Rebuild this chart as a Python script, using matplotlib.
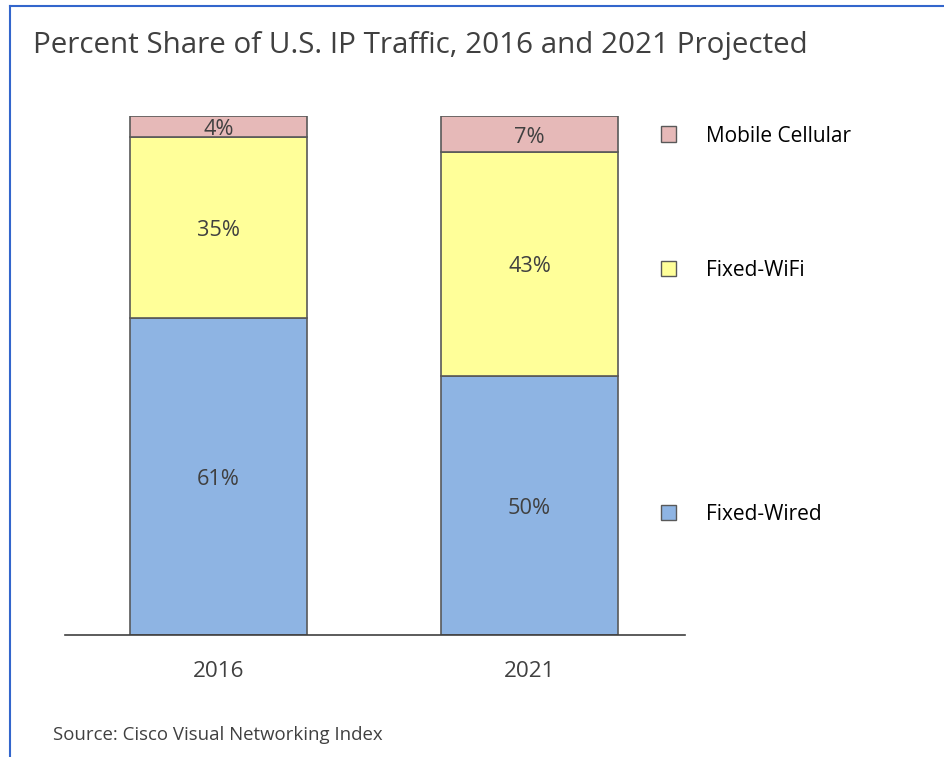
import matplotlib
matplotlib.use("Agg")
import matplotlib.pyplot as plt
from matplotlib.patches import Rectangle
from matplotlib.lines import Line2D

plt.rcParams['font.family'] = ['Open Sans', 'DejaVu Sans']

years = ['2016', '2021']
series = ['Fixed-Wired', 'Fixed-WiFi', 'Mobile Cellular']
fixed_wired = [61, 50]
fixed_wifi = [35, 43]
mobile_cellular = [4, 7]
colors = ['#8EB4E3', '#FFFF99', '#E6B9B8']

fig = plt.figure(figsize=(9.45, 7.57), dpi=100)
ax = fig.add_axes([65 / 945, (757 - 635) / 757, 620 / 945, (635 - 116) / 757])

x = list(range(len(years)))
bottom = [0, 0]
for name, vals, c in zip(series, [fixed_wired, fixed_wifi, mobile_cellular], colors):
    ax.bar(x, vals, width=0.57, bottom=bottom, color=c, edgecolor='#595959', linewidth=1.2, zorder=2)
    for xi, b, v in zip(x, bottom, vals):
        ax.annotate(f'{v}%', (xi, b + v / 2), xytext=(0, -3), textcoords='offset pixels',
                    ha='center', va='center', fontsize=15.7, color='#404040')
    bottom = [b + v for b, v in zip(bottom, vals)]

ax.set_ylim(0, 100)
ax.set_xlim(-0.494, 1.5)
for s in ['left', 'right', 'top']:
    ax.spines[s].set_visible(False)
ax.spines['bottom'].set_color('#404040')
ax.spines['bottom'].set_linewidth(1.2)
ax.set_yticks([])
ax.set_xticks(x)
ax.set_xticklabels(years, fontsize=16.2, color='#404040')
ax.tick_params(axis='x', length=0, pad=19)

# legend
leg_y = [513, 269, 135]
for name, c, yy in zip(series, colors, leg_y):
    fig.patches.append(Rectangle((661 / 945, 1 - (yy + 6.5) / 757), 15 / 945, 15 / 757,
                                 transform=fig.transFigure, facecolor=c, edgecolor='#595959', linewidth=1))
    fig.text(706 / 945, 1 - (yy + 1) / 757, name, ha='left', va='center', fontsize=15, color='#000000')

fig.text(33 / 945, 1 - 45 / 757, 'Percent Share of U.S. IP Traffic, 2016 and 2021 Projected',
         ha='left', va='center', fontsize=21.3, color='#404040')
fig.text(53 / 945, 1 - 735 / 757, 'Source: Cisco Visual Networking Index',
         ha='left', va='center', fontsize=13.4, color='#404040')

# blue frame (top and left edges)
fig.add_artist(Line2D([10 / 945, 1], [1 - 6 / 757, 1 - 6 / 757], transform=fig.transFigure, color='#3366CC', lw=1.5))
fig.add_artist(Line2D([10 / 945, 10 / 945], [0, 1 - 6 / 757], transform=fig.transFigure, color='#3366CC', lw=1.5))

fig.savefig('out.png', dpi=100)
